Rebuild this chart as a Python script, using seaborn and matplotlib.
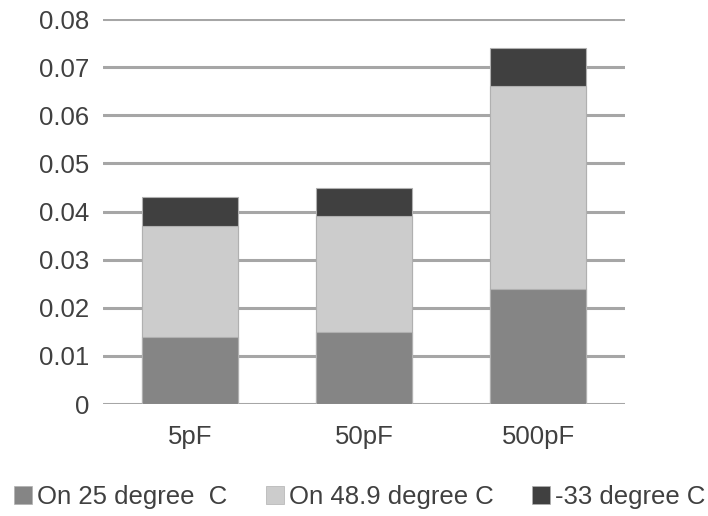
import numpy as np
import pandas as pd
import matplotlib
matplotlib.use("Agg")
import matplotlib.pyplot as plt
import seaborn as sns
from matplotlib.patches import Patch

# data
categories = ["5pF", "50pF", "500pF"]
on_25 = [0.014, 0.015, 0.024]
on_48_9 = [0.023, 0.024, 0.042]
minus_33 = [0.006, 0.006, 0.008]

series_names = ["On 25 degree  C", "On 48.9 degree C", "-33 degree C"]
colors = ["#858585", "#cccccc", "#404040"]

sns.set_style("white")
plt.rcParams["font.family"] = ["Liberation Sans", "DejaVu Sans"]

df = pd.DataFrame({"cat": categories, "a": on_25, "b": on_48_9, "c": minus_33})
df["cum_a"] = df["a"]
df["cum_b"] = df["a"] + df["b"]
df["cum_c"] = df["a"] + df["b"] + df["c"]

fig = plt.figure(figsize=(7.08, 5.16), dpi=100)
ax = fig.add_axes([0.1455, 0.217, 0.7375, 0.746])

# stacked bars drawn as cumulative totals, tallest first
for col, color in zip(["cum_c", "cum_b", "cum_a"], [colors[2], colors[1], colors[0]]):
    sns.barplot(data=df, x="cat", y=col, color=color, width=0.55,
                edgecolor="#b0b0b0", linewidth=0.8, ax=ax, zorder=3)

ax.set_ylim(0, 0.08)
ax.set_yticks(np.arange(0, 0.081, 0.01))
ax.set_yticklabels(["0"] + [f"{v:.2f}" for v in np.arange(0.01, 0.081, 0.01)])
ax.yaxis.grid(True, color="#a6a6a6", linewidth=2.2, zorder=0)
ax.set_axisbelow(True)
for s in ax.spines.values():
    s.set_visible(False)
ax.set_xlabel("")
ax.set_ylabel("")
ax.tick_params(axis="both", length=0, labelsize=18.5, labelcolor="#404040")
ax.tick_params(axis="y", pad=10)
ax.tick_params(axis="x", pad=15)

handles = [Patch(facecolor=c, edgecolor="#b0b0b0", linewidth=0.5) for c in colors]
fig.legend(handles, series_names, loc="center", bbox_to_anchor=(0.508, 0.037),
           ncol=3, frameon=False, fontsize=18.5, handlelength=0.7, handleheight=0.7,
           handletextpad=0.2, columnspacing=1.5, labelcolor="#404040")

plt.savefig("out.png", dpi=100)
